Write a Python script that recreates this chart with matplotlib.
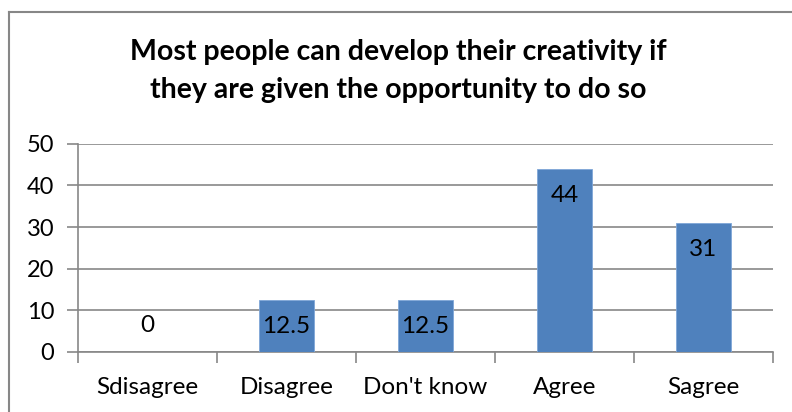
import numpy as np
import matplotlib.pyplot as plt
from matplotlib.lines import Line2D

# Відповіді респондентів, %
categories = ['Sdisagree', 'Disagree', "Don't know", 'Agree', 'Sagree']
values = [0, 12.5, 12.5, 44, 31]
value_labels = ['0', '12.5', '12.5', '44', '31']
y_ticks = [0, 10, 20, 30, 40, 50]

plt.rcParams['font.family'] = ['Lato', 'DejaVu Sans']

fig = plt.figure(figsize=(7.92, 4.12), dpi=100)
ax = fig.add_axes([78 / 792, 1 - 352 / 412, (773 - 78) / 792, (352 - 143.7) / 412])

x = np.arange(len(categories))
bars = ax.bar(x, values, width=0.4, color='#4F81BD', edgecolor='#7FA7D8', linewidth=0.6, zorder=3)

ax.set_xlim(-0.5, len(categories) - 0.5)
ax.set_ylim(0, 50)
ax.set_yticks(y_ticks)
ax.set_yticklabels([str(t) for t in y_ticks], fontsize=17)
ax.yaxis.grid(True, color='#878787', linewidth=1.2, zorder=0)
ax.tick_params(axis='y', length=8, width=1.2, color='#878787', pad=9)

# Підписи категорій і риски між ними
ax.set_xticks(x)
ax.set_xticklabels(categories, fontsize=17.5)
ax.tick_params(axis='x', length=0, pad=18)
ax.set_xticks(np.arange(len(categories) + 1) - 0.5, minor=True)
ax.tick_params(axis='x', which='minor', length=8, width=1.2, color='#878787')

for side in ['top', 'right']:
    ax.spines[side].set_visible(False)
for side in ['left', 'bottom']:
    ax.spines[side].set_color('#878787')
    ax.spines[side].set_linewidth(1.2)

# Значення на стовпчиках
for xi, v, lab in zip(x, values, value_labels):
    dy = 27 if v == 0 else -27
    ax.annotate(lab, (xi, v), xytext=(0, dy), textcoords='offset pixels',
                ha='center', va='center', fontsize=17.5, zorder=4)

fig.text(0.503, 1 - 71 / 412, 'Most people can develop their creativity if\nthey are given the opportunity to do so',
         ha='center', va='center', fontsize=20.5, fontweight='bold', linespacing=1.55)

# Рамка діаграми
fig.add_artist(Line2D([8.5 / 792, 8.5 / 792], [0, 1 - 12 / 412], color='#878787', linewidth=1.5))
fig.add_artist(Line2D([8.5 / 792, 1], [1 - 12 / 412, 1 - 12 / 412], color='#878787', linewidth=1.5))

fig.savefig('out.png', dpi=100)
